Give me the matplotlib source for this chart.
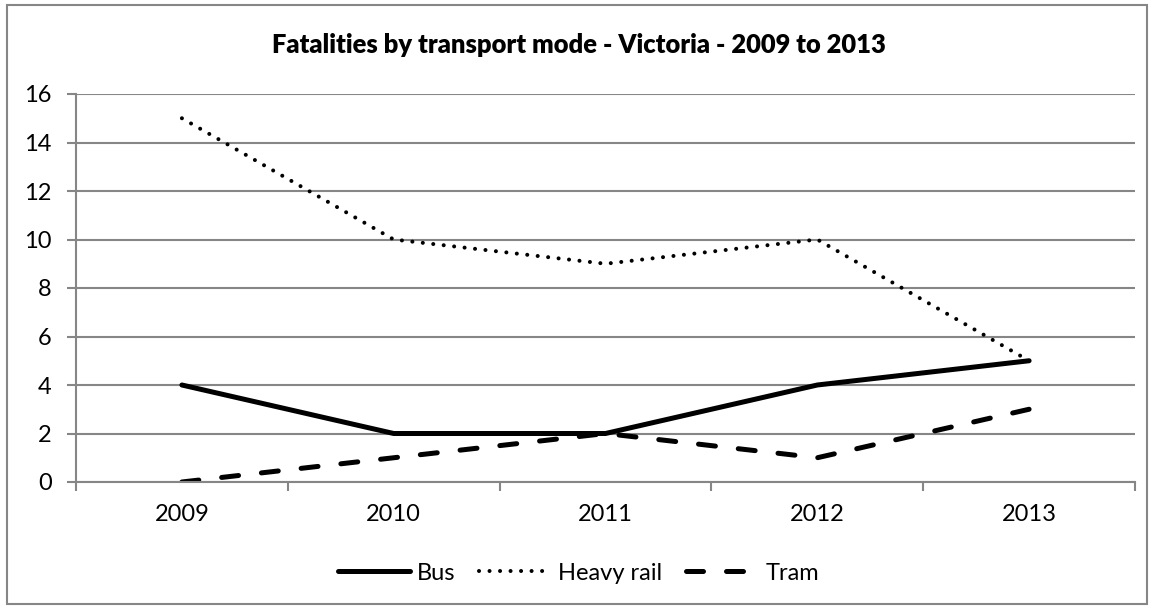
import matplotlib.pyplot as plt
from matplotlib.patches import Rectangle

years = ['2009', '2010', '2011', '2012', '2013']
bus = [4, 2, 2, 4, 5]
heavy_rail = [15, 10, 9, 10, 5]
tram = [0, 1, 2, 1, 3]

plt.rcParams['font.family'] = ['Lato', 'DejaVu Sans']

W, H = 1157, 610
fig = plt.figure(figsize=(W / 100, H / 100), dpi=100)
ax = fig.add_axes([76 / W, 1 - 482 / H, (1135 - 76) / W, (482 - 94) / H])

grey = '#868686'
x = list(range(len(years)))
ax.plot(x, bus, color='black', lw=3.6, solid_capstyle='round', label='Bus')
ax.plot(x, heavy_rail, color='black', lw=2.9, linestyle=(0, (0.01, 2.6)),
        dash_capstyle='round', label='Heavy rail')
ax.plot(x, tram, color='black', lw=3.6, linestyle=(0, (3.4, 4.6)),
        dash_capstyle='round', label='Tram')

ax.set_xlim(-0.5, 4.5)
ax.set_ylim(0, 16)
ax.set_yticks(range(0, 17, 2))
ax.set_xticks(x)
ax.set_xticklabels(years)
ax.set_xticks([i - 0.5 for i in range(6)], minor=True)
ax.tick_params(axis='x', which='major', length=0, pad=16, labelsize=17)
ax.tick_params(axis='x', which='minor', length=6.5, color=grey, width=1.5)
ax.tick_params(axis='y', length=6.5, color=grey, width=1.5, labelsize=17, pad=11)
ax.grid(axis='y', color=grey, lw=1.5)
ax.set_axisbelow(True)
for s in ['top', 'right']:
    ax.spines[s].set_visible(False)
for s in ['left', 'bottom']:
    ax.spines[s].set_color(grey)
    ax.spines[s].set_linewidth(1.5)

fig.text(0.5, 1 - 53 / H, 'Fatalities by transport mode - Victoria - 2009 to 2013',
         ha='center', va='baseline', fontsize=18.4, fontweight='heavy')

fig.legend(*ax.get_legend_handles_labels(), loc='center',
           bbox_to_anchor=(0.5, 1 - 573 / H), ncol=3, frameon=False,
           fontsize=17, handlelength=3.05, columnspacing=1.0, handletextpad=0.3)

fig.patches.append(Rectangle((7 / W, 1 - 604 / H), 1140 / W, 599 / H,
                             transform=fig.transFigure, fill=False,
                             edgecolor=grey, lw=1.5))

fig.savefig('out.png', dpi=100)
